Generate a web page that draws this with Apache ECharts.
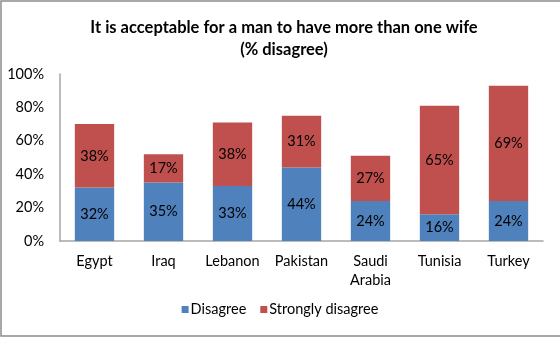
<!DOCTYPE html>
<html>
<head>
<meta charset="utf-8">
<script src="https://cdn.jsdelivr.net/npm/echarts@6/dist/echarts.min.js"></script>
<style>
html,body{margin:0;padding:0;background:#fff;}
#c{width:560px;height:338px;}
</style>
</head>
<body>
<div id="c"></div>
<script>
var categories = ['Egypt', 'Iraq', 'Lebanon', 'Pakistan', 'Saudi\nArabia', 'Tunisia', 'Turkey'];
var disagree = [32, 35, 33, 44, 24, 16, 24];
var stronglyDisagree = [38, 17, 38, 31, 27, 65, 69];
var yTicks = [0, 20, 40, 60, 80, 100];

var FONT = 'Lato, "Liberation Sans", sans-serif';
var chart = echarts.init(document.getElementById('c'), null, {renderer: 'canvas'});
chart.setOption({
  animation: false,
  backgroundColor: '#fff',
  title: {
    text: 'It is acceptable for a man to have more than one wife\n(% disagree)',
    left: 279, top: 12, textAlign: 'center',
    textStyle: {fontFamily: FONT, fontWeight: 'bold', fontSize: 16.5, color: '#000', lineHeight: 22}
  },
  graphic: [{
    type: 'rect', shape: {x: 1, y: 1, width: 620, height: 335},
    style: {fill: 'none', stroke: '#8c8c8c', lineWidth: 1.5}, silent: true
  }],
  legend: {
    bottom: 16, left: 'center',
    itemWidth: 7, itemHeight: 7, itemGap: 14,
    icon: 'rect',
    textStyle: {fontFamily: FONT, fontSize: 14.5, color: '#000', padding: [0, 0, 0, -3]},
    data: ['Disagree', 'Strongly disagree']
  },
  grid: {left: 60, right: 17, top: 74, bottom: 97},
  xAxis: {
    type: 'category', data: categories,
    axisLine: {lineStyle: {color: '#a6a6a6', width: 1.5}},
    axisTick: {show: false},
    axisLabel: {interval: 0, hideOverlap: false, fontFamily: FONT, fontSize: 14.5, color: '#000', margin: 11, lineHeight: 19}
  },
  yAxis: {
    type: 'value', min: 0, max: 100, interval: 20,
    axisLine: {show: true, lineStyle: {color: '#a6a6a6', width: 1.5}},
    axisTick: {show: false},
    splitLine: {show: false},
    axisLabel: {fontFamily: FONT, fontSize: 14.5, color: '#000', margin: 16,
      formatter: function (v) { return yTicks.indexOf(v) >= 0 ? v + '%' : ''; }}
  },
  series: [{
    name: 'Disagree', type: 'bar', stack: 's', data: disagree,
    barWidth: '57%',
    itemStyle: {color: '#4F81BD'},
    label: {show: true, position: 'inside', formatter: '{c}%', fontFamily: FONT, fontSize: 14.5, color: '#000'}
  }, {
    name: 'Strongly disagree', type: 'bar', stack: 's', data: stronglyDisagree,
    barWidth: '57%',
    itemStyle: {color: '#C0504D'},
    label: {show: true, position: 'inside', formatter: '{c}%', fontFamily: FONT, fontSize: 14.5, color: '#000'}
  }]
});
</script>
</body>
</html>
